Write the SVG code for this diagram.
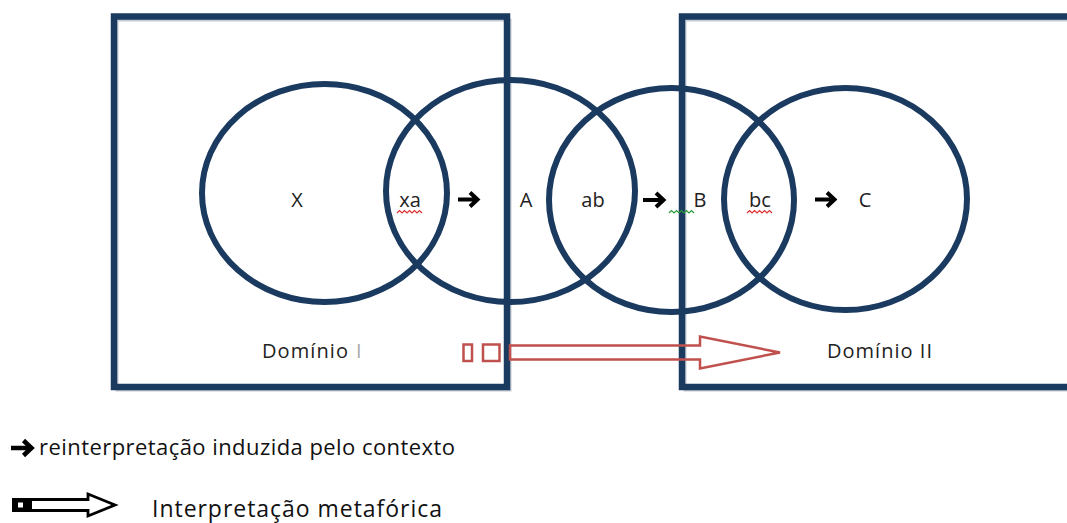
<svg xmlns="http://www.w3.org/2000/svg" width="1067" height="523" viewBox="0 0 1067 523">
<style>
.box{fill:none;stroke:#1b3a60;stroke-width:6.5}
.shadow{fill:none;stroke:#c3cad4;stroke-width:3}
.circ{fill:none;stroke:#1b3a60;stroke-width:6}
.lbl{font-family:"Open Sans","Liberation Sans",sans-serif;font-size:20px;fill:#222;text-anchor:middle}
.dom{font-family:"Open Sans","Liberation Sans",sans-serif;font-size:20px;fill:#222}
.leg{font-family:"Open Sans","Liberation Sans",sans-serif;font-size:22px;fill:#111}
.arr{fill:none;stroke:#000;stroke-width:4;stroke-linejoin:miter}
.sq{fill:none;stroke-width:1.2}
</style>
<rect width="1067" height="523" fill="#fff"/>
<g id="domain1">
<rect class="shadow" x="117" y="20" width="393" height="370"/>
<rect class="box" x="114" y="16.5" width="393" height="370.5"/>
<text class="dom" x="262" y="358" textLength="86" lengthAdjust="spacing">Domínio</text>
<text class="dom" x="356" y="358" style="fill:#aaa">I</text>
</g>
<g id="domain2">
<rect class="shadow" x="685" y="20" width="420" height="370"/>
<rect class="box" x="682" y="16.5" width="420" height="370.5"/>
<text class="dom" x="827" y="358" textLength="105" lengthAdjust="spacing">Domínio II</text>
</g>
<g id="circleX">
<ellipse class="circ" cx="324.5" cy="193" rx="122.5" ry="109"/>
<text class="lbl" x="297" y="207">X</text>
</g>
<g id="circleA">
<ellipse class="circ" cx="510.5" cy="191" rx="124.5" ry="111"/>
<text class="lbl" x="410" y="207">xa</text>
<path class="sq" stroke="#e03030" d="M397 213 l2.5 -2.5 l2.5 2.5 l2.5 -2.5 l2.5 2.5 l2.5 -2.5 l2.5 2.5 l2.5 -2.5 l2.5 2.5 l2.5 -2.5 l2.5 2.5"/>
<text class="lbl" x="526" y="207">A</text>
</g>
<g id="circleB">
<ellipse class="circ" cx="671.5" cy="200" rx="122.5" ry="112"/>
<text class="lbl" x="593" y="207">ab</text>
<text class="lbl" x="700" y="207">B</text>
<path class="sq" stroke="#2a9a3a" d="M669 213 l2.5 -2.5 l2.5 2.5 l2.5 -2.5 l2.5 2.5 l2.5 -2.5 l2.5 2.5 l2.5 -2.5 l2.5 2.5 l2.5 -2.5 l2.5 2.5"/>
</g>
<g id="circleC">
<ellipse class="circ" cx="845.5" cy="199" rx="121.5" ry="111"/>
<text class="lbl" x="760" y="207">bc</text>
<path class="sq" stroke="#e03030" d="M747 213 l2.5 -2.5 l2.5 2.5 l2.5 -2.5 l2.5 2.5 l2.5 -2.5 l2.5 2.5 l2.5 -2.5 l2.5 2.5 l2.5 -2.5 l2.5 2.5"/>
<text class="lbl" x="865" y="207">C</text>
</g>
<g id="connectors">
<path class="arr" d="M458 199.5 H475 M470 192.5 L477.5 199.5 L470 206.5"/>
<path class="arr" d="M643 200 H661 M656 193 L663.5 200 L656 207"/>
<path class="arr" d="M815 199.5 H832 M827 192.5 L834.5 199.5 L827 206.5"/>
<g id="metaphor-arrow" fill="none" stroke="#c0504d" stroke-width="2.5">
<rect x="463.5" y="344.5" width="8.5" height="16.5"/>
<rect x="483" y="344.5" width="16.5" height="16.5"/>
<path d="M510 345.5 H700 V336.5 L780 352.5 L700 368.5 V359.5 H510 Z" stroke-linejoin="miter"/>
</g>
</g>
<g id="legend">
<path class="arr" style="stroke-width:4.5" d="M11 448 H29 M23.5 440.5 L31.5 448 L23.5 455.5"/>
<text class="leg" x="39" y="455" textLength="416" lengthAdjust="spacing">reinterpretação induzida pelo contexto</text>
<rect x="12" y="498" width="20" height="14" fill="#000"/>
<rect x="18" y="502.5" width="5" height="5" fill="#fff"/>
<path d="M32 499.5 H88 V494 L115 505 L88 516 V510.5 H32" fill="none" stroke="#000" stroke-width="2.8"/>
<text class="leg" style="font-size:23px" x="152" y="517" textLength="290" lengthAdjust="spacing">Interpretação metafórica</text>
</g>
</svg>
